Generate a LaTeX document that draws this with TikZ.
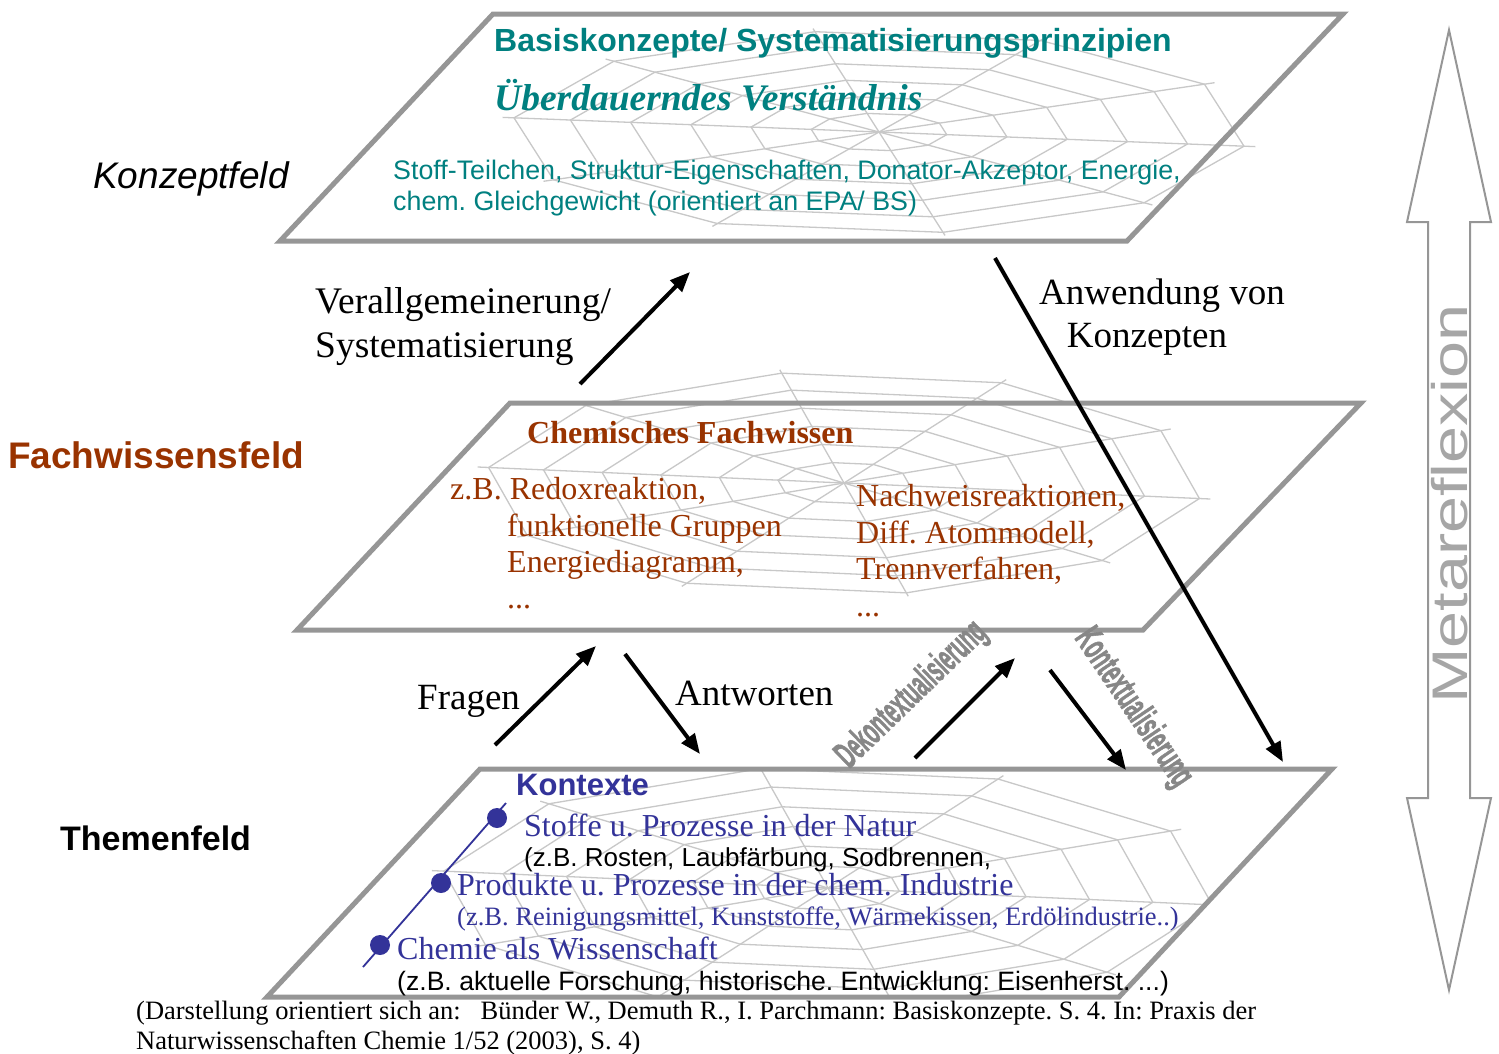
\documentclass[tikz,border=0pt]{standalone}
\usepackage{fontspec}
\setmainfont{Liberation Serif}
\setsansfont{Liberation Sans}
\newfontfamily\heavysans[FakeBold=2]{Liberation Sans Bold}
\usetikzlibrary{arrows.meta}
\definecolor{teal}{RGB}{0,128,128}
\definecolor{brn}{RGB}{153,51,0}
\definecolor{navy}{RGB}{51,51,153}
\definecolor{planegray}{RGB}{150,150,150}
\definecolor{webgray}{RGB}{200,200,200}
\definecolor{lblgray}{RGB}{135,135,135}
\newcommand\fs[1]{\fontsize{#1}{#1}\selectfont}
\newcommand\myweb[4]{%
  \foreach \a in {0,36,...,324} {
    \draw[webline] (#1,#2) -- ({#1+#3*cos(\a+8)},{#2+#4*sin(\a+8)});
  }
  \foreach \f in {0.18,0.34,0.5,0.66,0.82,0.97} {
    \draw[webline] plot[samples at={8,44,...,368}] ({#1+#3*\f*cos(\x)},{#2+#4*\f*sin(\x)});
  }
}
\frenchspacing
\begin{document}
\frenchspacing
\begin{tikzpicture}[x=1pt,y=-1pt,
  plane/.style={draw=planegray,line width=5pt,line join=miter},
  webline/.style={draw=webgray,line width=1.3pt},
  arr/.style={draw=black,line width=4pt,-{Triangle[length=20pt,width=16pt]}},
  sanslbl/.style={font=\sffamily,inner sep=0pt,anchor=base west},
  serlbl/.style={font=\rmfamily,inner sep=0pt,anchor=base west},
  vertlbl/.style={inner sep=0pt,text=lblgray,font=\heavysans}]
\useasboundingbox (0,0) rectangle (1499,1053);
% ---------- planes ----------
\coordinate (t1) at (493,14);  \coordinate (t2) at (1343,14);
\coordinate (t3) at (1127,241); \coordinate (t4) at (280,241);
\coordinate (m1) at (510,403); \coordinate (m2) at (1361,403);
\coordinate (m3) at (1143,630); \coordinate (m4) at (297,630);
\coordinate (b1) at (480,769); \coordinate (b2) at (1332,769);
\coordinate (b3) at (1119,997); \coordinate (b4) at (267,997);
\fill[white] (t1)--(t2)--(t3)--(t4)--cycle;
\fill[white] (m1)--(m2)--(m3)--(m4)--cycle;
\fill[white] (b1)--(b2)--(b3)--(b4)--cycle;
\myweb{879}{132}{380}{105}
\myweb{844}{483}{370}{115}
\begin{scope}
\clip (b1)--(b2)--(b3)--(b4)--cycle;
\myweb{828}{888}{400}{125}
\end{scope}
\draw[plane] (t1)--(t2)--(t3)--(t4)--cycle;
\draw[plane] (m1)--(m2)--(m3)--(m4)--cycle;
\draw[plane] (b1)--(b2)--(b3)--(b4)--cycle;
% ---------- Metareflexion arrow ----------
\draw[draw=planegray,line width=2pt,fill=white]
  (1449,30) -- (1491,222) -- (1470,222) -- (1470,798) -- (1491,798) -- (1449,990)
  -- (1407,798) -- (1428,798) -- (1428,222) -- (1407,222) -- cycle;
\node[inner sep=0pt,rotate=90,text=black!35,font=\sffamily] (meta) at (1450,504)
  {\scalebox{1.33}[1]{\fs{50}Metareflexion}};
% ---------- side labels ----------
\node[sanslbl,font=\sffamily\itshape] (kf) at (93,188) {\fs{37}Konzeptfeld};
\node[sanslbl,font=\sffamily\bfseries,text=brn] (fwf) at (8,468) {\fs{37}Fachwissensfeld};
\node[sanslbl,font=\sffamily\bfseries] (tf) at (60,850) {\fs{34}Themenfeld};
% ---------- top plane text ----------
\node[sanslbl,font=\sffamily\bfseries,text=teal] (bk) at (494,51) {\fs{32}Basiskonzepte/ Systematisierungsprinzipien};
\node[serlbl,font=\rmfamily\bfseries\itshape,text=teal] (uv) at (494,110) {\fs{37.5}Überdauerndes Verständnis};
\node[sanslbl,text=teal] (st1) at (393,179) {\fs{26.8}Stoff-Teilchen, Struktur-Eigenschaften, Donator-Akzeptor, Energie,};
\node[sanslbl,text=teal] (st2) at (393,210) {\fs{26.8}chem. Gleichgewicht (orientiert an EPA/ BS)};
% ---------- middle plane text ----------
\node[serlbl,font=\rmfamily\bfseries,text=brn] (cf) at (527,443) {\fs{32}Chemisches Fachwissen};
\node[serlbl,text=brn] (l1) at (450,499) {\fs{32}z.B. Redoxreaktion,};
\node[serlbl,text=brn] (l2) at (507,536) {\fs{32}funktionelle Gruppen};
\node[serlbl,text=brn] (l3) at (507,572) {\fs{32}Energiediagramm,};
\node[serlbl,text=brn] (l4) at (507,608) {\fs{32}...};
\node[serlbl,text=brn] (r1) at (856,506) {\fs{32}Nachweisreaktionen,};
\node[serlbl,text=brn] (r2) at (856,543) {\fs{32}Diff. Atommodell,};
\node[serlbl,text=brn] (r3) at (856,579) {\fs{32}Trennverfahren,};
\node[serlbl,text=brn] (r4) at (856,616) {\fs{32}...};
% ---------- bottom plane text ----------
\node[sanslbl,font=\sffamily\bfseries,text=navy] (kx) at (516,795) {\fs{31}Kontexte};
\coordinate (lnA) at (506,803); \coordinate (lnB) at (363,967);
\draw[navy,line width=1.8pt] (lnA) -- (lnB);
\fill[navy] (497,818) circle (10pt) coordinate (d1);
\fill[navy] (441,883) circle (10pt) coordinate (d2);
\fill[navy] (380,945) circle (10pt) coordinate (d3);
\node[serlbl,text=navy] (k1) at (524,836) {\fs{32}Stoffe u. Prozesse in der Natur};
\node[sanslbl] (k1b) at (524,866) {\fs{26}(z.B. Rosten, Laubfärbung, Sodbrennen,};
\node[serlbl,text=navy] (k2) at (457,895) {\fs{32}Produkte u. Prozesse in der chem. Industrie};
\node[serlbl,text=navy] (k2b) at (457,925) {\fs{26.5}(z.B. Reinigungsmittel, Kunststoffe, Wärmekissen, Erdölindustrie..)};
\node[serlbl,text=navy] (k3) at (397,959) {\fs{32}Chemie als Wissenschaft};
\node[sanslbl] (k3b) at (397,990) {\fs{26.6}(z.B. aktuelle Forschung, historische. Entwicklung: Eisenherst. ...)};
% ---------- citation ----------
\node[serlbl] (c1) at (136,1019) {\fs{26.5}(Darstellung orientiert sich an:\ \ \ Bünder W., Demuth R., I. Parchmann: Basiskonzepte. S. 4. In: Praxis der};
\node[serlbl] (c2) at (136,1049) {\fs{26.5}Naturwissenschaften Chemie 1/52 (2003), S. 4)};
% ---------- arrow labels ----------
\node[serlbl] (va1) at (315,313) {\fs{37.5}Verallgemeinerung/};
\node[serlbl] (va2) at (315,357) {\fs{37.5}Systematisierung};
\node[serlbl,anchor=base] (an1) at (1162,304) {\fs{37}Anwendung von};
\node[serlbl,anchor=base] (an2) at (1147,347) {\fs{37}Konzepten};
\node[serlbl] (fr) at (417,709) {\fs{37}Fragen};
\node[serlbl] (aw) at (675,705) {\fs{37}Antworten};
\node[vertlbl,rotate=44] (dk) at (912,695) {\scalebox{0.5}[1]{\fs{38}Dekontextualisierung}};
\node[vertlbl,rotate=-56] (kt) at (1133,708) {\scalebox{0.53}[1]{\fs{38}Kontextualisierung}};
% ---------- arrows ----------
\coordinate (a1s) at (580,384); \coordinate (a1e) at (690,272);
\coordinate (a2s) at (995,258); \coordinate (a2e) at (1283,762);
\coordinate (a3s) at (495,745); \coordinate (a3e) at (596,646);
\coordinate (a4s) at (625,654); \coordinate (a4e) at (700,754);
\coordinate (a5s) at (915,758); \coordinate (a5e) at (1015,658);
\coordinate (a6s) at (1050,670); \coordinate (a6e) at (1126,770);
\draw[arr] (a1s) -- (a1e);
\draw[arr] (a2s) -- (a2e);
\draw[arr] (a3s) -- (a3e);
\draw[arr] (a4s) -- (a4e);
\draw[arr] (a5s) -- (a5e);
\draw[arr] (a6s) -- (a6e);
\end{tikzpicture}
\end{document}
